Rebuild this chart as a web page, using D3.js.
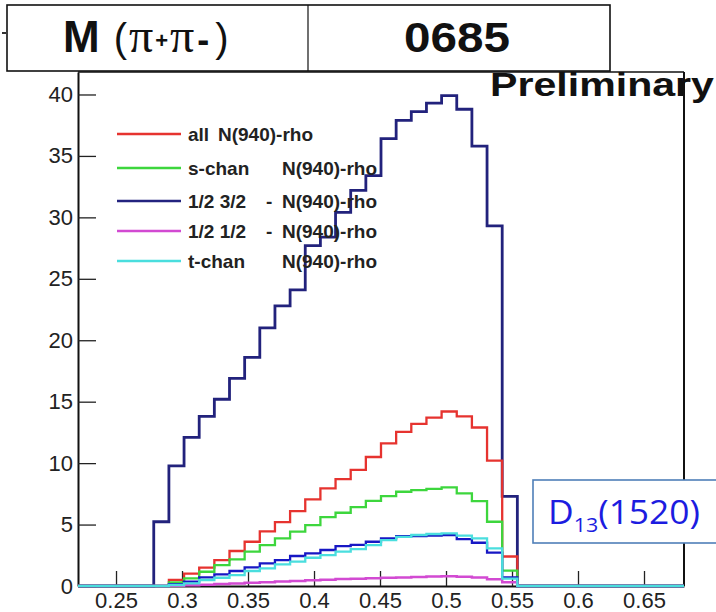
<!DOCTYPE html>
<html>
<head>
<meta charset="utf-8">
<script src="https://cdn.jsdelivr.net/npm/d3@7"></script>
<style>
  body { margin: 0; background: #fff; }
  svg { display: block; font-family: "Liberation Sans", Arial, Helvetica, sans-serif; }
</style>
</head>
<body>
<svg width="716" height="612"></svg>
<script>
// histogram: 40 equal bins over the axis range, values given from bin 5 to bin 28
var xLow = 0.2212, xHigh = 0.6803, nBins = 40, firstBin = 5;

var d13Values      = [5.23, 9.78, 12.1, 13.8, 15.2, 16.9, 18.6, 21.0, 22.8, 24.1, 27.7, 28.4, 30.4, 32.2, 33.4, 36.4, 37.9, 38.6, 39.3, 39.9, 38.8, 35.8, 29.3, 7.3];
var allValues      = [0, 0.5, 1.0, 1.5, 2.1, 2.85, 3.6, 4.45, 5.2, 6.1, 7.05, 7.95, 8.7, 9.45, 10.5, 11.6, 12.55, 13.2, 13.7, 14.2, 13.8, 12.9, 10.2, 2.4];
var sChanValues    = [0, 0.3, 0.62, 1.16, 1.7, 2.17, 2.8, 3.33, 3.88, 4.42, 4.96, 5.6, 5.96, 6.42, 6.93, 7.32, 7.67, 7.8, 7.91, 8.02, 7.53, 6.9, 5.23, 1.25];
var half32Values   = [0, 0.15, 0.35, 0.7, 0.95, 1.22, 1.52, 1.84, 2.11, 2.44, 2.66, 2.93, 3.25, 3.35, 3.6, 3.88, 4.05, 4.07, 4.1, 4.15, 3.82, 3.52, 2.71, 0.7];
var half12Values   = [0, 0.02, 0.06, 0.1, 0.16, 0.2, 0.27, 0.3, 0.36, 0.4, 0.47, 0.5, 0.56, 0.6, 0.64, 0.68, 0.7, 0.74, 0.78, 0.8, 0.76, 0.7, 0.55, 0.3];
var tChanValues    = [0, 0.08, 0.22, 0.49, 0.67, 0.89, 1.22, 1.44, 1.76, 1.98, 2.3, 2.52, 2.79, 3.0, 3.33, 3.74, 4.0, 4.15, 4.23, 4.28, 4.1, 3.88, 3.07, 0.6];

var xTicks = [0.25, 0.3, 0.35, 0.4, 0.45, 0.5, 0.55, 0.6, 0.65];
var yTicks = [0, 5, 10, 15, 20, 25, 30, 35, 40];

var legendNames = [["all", "N(940)-rho"], ["s-chan", "N(940)-rho"], ["1/2 3/2", "-", "N(940)-rho"], ["1/2 1/2", "-", "N(940)-rho"], ["t-chan", "N(940)-rho"]];
var legendColors = ["#e6332f", "#3dd63d", "#23237f", "#d24ad2", "#4adede"];

var svg = d3.select("svg");
var pLeft = 78, pRight = 684, pTop = 72, pBottom = 586;

var x = d3.scaleLinear().domain([xLow, xHigh]).range([pLeft, pRight]);
var y = d3.scaleLinear().domain([0, 41.83]).range([pBottom, pTop]);

svg.append("rect").attr("width", 716).attr("height", 612).attr("fill", "#fff");

// axes, ticks pointing into the frame
var fmt = function(d) { return String(+d.toFixed(2)); };
var minorX = d3.range(23, 69).map(function(d) { return d / 100; });
var minorY = d3.range(0, 42);

var gx = svg.append("g").attr("transform", "translate(0," + pBottom + ")");
gx.call(d3.axisBottom(x).tickValues(minorX).tickSizeInner(-7.5).tickSizeOuter(0).tickFormat(""));
gx.call(d3.axisBottom(x).tickValues(xTicks).tickSizeInner(-15).tickSizeOuter(0).tickPadding(6).tickFormat(fmt));

var gy = svg.append("g").attr("transform", "translate(" + pLeft + ",0)");
gy.call(d3.axisLeft(y).tickValues(minorY).tickSizeInner(-9).tickSizeOuter(0).tickFormat(""));
gy.call(d3.axisLeft(y).tickValues(yTicks).tickSizeInner(-18).tickSizeOuter(0).tickPadding(5));

svg.selectAll(".tick line").attr("stroke", "#222").attr("stroke-width", 1.3);
svg.selectAll(".domain").attr("stroke", "#111").attr("stroke-width", 2);
svg.selectAll(".tick text").attr("font-size", 22).attr("fill", "#222").attr("font-family", "'Liberation Sans', Arial, sans-serif");

svg.append("line").attr("x1", pRight).attr("x2", pRight).attr("y1", pTop).attr("y2", pBottom).attr("stroke", "#111").attr("stroke-width", 2);
svg.append("line").attr("x1", pLeft).attr("x2", pRight).attr("y1", pTop).attr("y2", pTop).attr("stroke", "#111").attr("stroke-width", 1.5);

// histograms
var binW = (xHigh - xLow) / nBins;
function histPoints(vals) {
  var full = d3.range(nBins).map(function(i) {
    var k = i - firstBin;
    return (k >= 0 && k < vals.length) ? vals[k] : 0;
  });
  var pts = [];
  full.forEach(function(v, i) {
    pts.push([xLow + i * binW, v]);
    pts.push([xLow + (i + 1) * binW, v]);
  });
  return pts;
}
var line = d3.line().x(function(d) { return x(d[0]); }).y(function(d) { return y(d[1]); });

var series = [
  { vals: d13Values,    color: "#22227c", width: 2.8 },
  { vals: allValues,    color: "#e6332f", width: 2.3 },
  { vals: sChanValues,  color: "#3dd63d", width: 2.3 },
  { vals: half32Values, color: "#1717c4", width: 2.3 },
  { vals: half12Values, color: "#d24ad2", width: 2.5 },
  { vals: tChanValues,  color: "#4adede", width: 2.3 }
];

svg.append("g").selectAll("path")
  .data(series)
  .enter().append("path")
  .attr("d", function(d) { return line(histPoints(d.vals)); })
  .attr("fill", "none")
  .attr("stroke", function(d) { return d.color; })
  .attr("stroke-width", function(d) { return d.width; })
  .attr("stroke-linejoin", "miter");

// legend
var legendY = [134, 168, 201, 231, 261];
var legend = svg.append("g").selectAll("g")
  .data(legendNames)
  .enter().append("g")
  .attr("transform", function(d, i) { return "translate(0," + legendY[i] + ")"; });

legend.append("line")
  .attr("x1", 117).attr("x2", 181)
  .attr("stroke", function(d, i) { return legendColors[i]; })
  .attr("stroke-width", 2.6);

legend.append("text")
  .attr("x", 188).attr("y", 7)
  .attr("font-size", 19).attr("font-weight", "bold").attr("fill", "#222")
  .text(function(d) { return d[0]; });

legend.filter(function(d) { return d.length === 3; }).append("text")
  .attr("x", 266).attr("y", 7)
  .attr("font-size", 19).attr("font-weight", "bold").attr("fill", "#222")
  .text("-");

legend.append("text")
  .attr("x", function(d, i) { return i === 0 ? 218 : 282; }).attr("y", 7)
  .attr("font-size", 19).attr("font-weight", "bold").attr("fill", "#222")
  .text(function(d) { return d[d.length - 1]; });

// title box
svg.append("rect").attr("x", 7).attr("y", 5).attr("width", 603).attr("height", 66)
  .attr("fill", "#fff").attr("stroke", "#111").attr("stroke-width", 1.6);
svg.append("line").attr("x1", 308).attr("x2", 308).attr("y1", 5).attr("y2", 71).attr("stroke", "#111").attr("stroke-width", 1.2);
svg.append("line").attr("x1", 2).attr("x2", 6).attr("y1", 33).attr("y2", 33).attr("stroke", "#333").attr("stroke-width", 2);

var serif = "'Liberation Serif', 'DejaVu Serif', serif";
var title = svg.append("text").attr("x", 63).attr("y", 52).attr("fill", "#111");
title.append("tspan").attr("font-size", 44).attr("font-weight", "bold").text("M");
title.append("tspan").attr("font-size", 40).attr("dx", 14).text("(");
title.append("tspan").attr("font-size", 48).attr("font-family", serif).attr("dx", 2).text("π");
title.append("tspan").attr("font-size", 22).attr("font-weight", "bold").attr("dx", 2).attr("dy", -4).text("+");
title.append("tspan").attr("font-size", 48).attr("font-family", serif).attr("dx", 2).attr("dy", 4).text("π");
title.append("tspan").attr("font-size", 36).attr("font-weight", "bold").attr("dx", 3).text("-");
title.append("tspan").attr("font-size", 40).attr("dx", 6).text(")");

svg.append("text").attr("x", 457).attr("y", 52).attr("text-anchor", "middle")
  .attr("font-size", 42).attr("font-weight", "bold").attr("fill", "#111")
  .attr("textLength", 106).attr("lengthAdjust", "spacingAndGlyphs")
  .text("0685");

svg.append("text").attr("x", 490).attr("y", 96)
  .attr("font-size", 33).attr("font-weight", "bold").attr("fill", "#111")
  .attr("textLength", 224).attr("lengthAdjust", "spacingAndGlyphs")
  .text("Preliminary");

// D13(1520) box
svg.append("rect").attr("x", 533).attr("y", 480).attr("width", 190).attr("height", 63)
  .attr("fill", "#fff").attr("stroke", "#4f7fb8").attr("stroke-width", 1.6);
var d13 = svg.append("text").attr("x", 548).attr("y", 524)
  .attr("font-family", "'Open Sans', 'Noto Sans', sans-serif").attr("fill", "#1c1ce0")
  .attr("textLength", 152).attr("lengthAdjust", "spacingAndGlyphs");
d13.append("tspan").attr("font-size", 33).text("D");
d13.append("tspan").attr("font-size", 20).attr("dy", 8).text("13");
d13.append("tspan").attr("font-size", 33).attr("dy", -8).text("(1520)");
</script>
</body>
</html>
